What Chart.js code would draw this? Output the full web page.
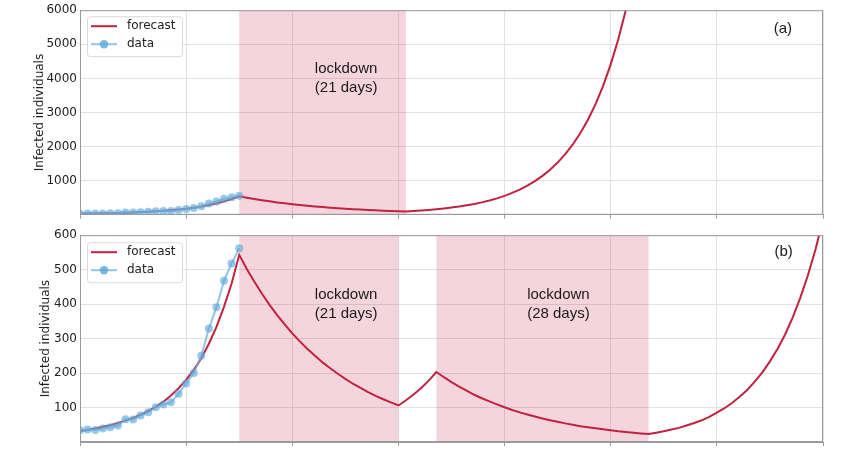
<!DOCTYPE html>
<html>
<head>
<meta charset="utf-8">
<script src="https://cdn.jsdelivr.net/npm/chart.js@4.4.1/dist/chart.umd.min.js"></script>
<style>
  html, body { margin: 0; padding: 0; background: #fff; }
  #wrap { position: relative; width: 846px; height: 457px; }
  .panel { position: absolute; left: 0; width: 846px; }
</style>
</head>
<body>
<div id="wrap">
  <div class="panel" style="top:0;height:225px"><canvas id="chartA"></canvas></div>
  <div class="panel" style="top:225px;height:232px"><canvas id="chartB"></canvas></div>
</div>
<script>
// observed cases, one per day (day 0..21)
const observed = [34, 36, 35, 39, 43, 48, 66, 65, 77, 86, 101, 109, 115, 140, 170, 200, 250, 329, 391, 468, 518, 562];

// model forecast, one value per day starting at day 0
const forecastA = [32, 35, 39, 44, 49, 55, 62, 70, 79, 90, 102, 117, 135, 156, 180, 209, 243, 285, 334, 393, 460, 540,
  499, 461, 426, 394, 364, 336, 311, 287, 265, 245, 227, 209, 193, 179, 165, 153, 141, 130, 120, 111, 103, 95,
  108, 123, 141, 161, 184, 211, 241, 277, 317, 365, 419, 482, 556, 641, 739, 853, 986, 1141, 1322, 1532,
  1777, 2063, 2397, 2788, 3246, 3783, 4412, 5147, 6013, 7030];

const forecastB = [32, 35, 39, 44, 49, 55, 62, 70, 79, 90, 102, 117, 135, 156, 180, 209, 243, 285, 334, 393, 460, 543,
  502, 465, 430, 398, 368, 341, 315, 292, 270, 250, 231, 214, 198, 183, 169, 157, 145, 134, 124, 115, 106,
  121, 138, 157, 178, 203,
  188, 174, 161, 149, 137, 127, 118, 109, 101, 93, 86, 80, 74, 68, 63, 59, 54, 50, 46, 43, 40, 37, 34, 31, 29, 27, 25, 23,
  27, 31, 36, 41, 48, 55, 63, 73, 85, 98, 113, 131, 151, 175, 202, 234, 270, 312, 361, 418, 483, 558, 645];

// lockdown periods [start day, end day]
const lockdownsA = [[21, 43]];
const lockdownsB = [[21, 42], [47, 75]];

// text labels [day, value, text]
const notesA = [[35.1, 4275, 'lockdown'], [35.1, 3720, '(21 days)'], [92.7, 5440, '(a)']];
const notesB = [[35.1, 426, 'lockdown'], [35.1, 371, '(21 days)'],
  [63.1, 426, 'lockdown'], [63.1, 371, '(28 days)'], [92.8, 552, '(b)']];

const xMax = 98;
const xStep = 14;

const RED = '#c0223f';

Chart.defaults.font.family = 'DejaVu Sans';
Chart.defaults.font.size = 12;
Chart.defaults.color = '#222';

const toPoints = arr => arr.map((v, i) => ({ x: i, y: v }));

const shading = {
  id: 'shading',
  beforeDatasetsDraw(chart, args, opts) {
    const { ctx, chartArea, scales } = chart;
    ctx.save();
    ctx.fillStyle = 'rgba(205, 45, 85, 0.2)';
    opts.spans.forEach(([a, b]) => {
      const x0 = scales.x.getPixelForValue(a);
      const x1 = scales.x.getPixelForValue(b);
      ctx.fillRect(x0, chartArea.top, x1 - x0, chartArea.bottom - chartArea.top);
    });
    ctx.restore();
  }
};

const decor = {
  id: 'decor',
  afterDraw(chart, args, opts) {
    const { ctx, chartArea, scales } = chart;
    ctx.save();
    // notes
    ctx.fillStyle = '#1a1a1a';
    ctx.font = '15px "Liberation Sans"';
    ctx.textAlign = 'center';
    ctx.textBaseline = 'middle';
    opts.notes.forEach(([d, v, t]) => {
      ctx.fillText(t, scales.x.getPixelForValue(d), scales.y.getPixelForValue(v));
    });
    // legend
    const bx = chartArea.left + 7, by = chartArea.top + opts.legendDy, bw = 95, bh = 40;
    ctx.beginPath();
    ctx.roundRect(bx + 0.5, by + 0.5, bw, bh, 3);
    ctx.fillStyle = 'rgba(255,255,255,0.9)';
    ctx.fill();
    ctx.strokeStyle = '#dadada';
    ctx.lineWidth = 1;
    ctx.stroke();
    const r1 = by + 10, r2 = by + 28;
    ctx.lineWidth = 2;
    ctx.strokeStyle = RED;
    ctx.beginPath(); ctx.moveTo(bx + 4, r1); ctx.lineTo(bx + 30, r1); ctx.stroke();
    ctx.strokeStyle = 'rgba(120,185,228,0.8)';
    ctx.beginPath(); ctx.moveTo(bx + 4, r2); ctx.lineTo(bx + 30, r2); ctx.stroke();
    ctx.fillStyle = 'rgba(95,170,220,0.85)';
    ctx.beginPath(); ctx.arc(bx + 17, r2, 4.2, 0, Math.PI * 2); ctx.fill();
    ctx.fillStyle = '#222';
    ctx.font = '12px "DejaVu Sans"';
    ctx.textAlign = 'left';
    ctx.fillText('forecast', bx + 40, r1);
    ctx.fillText('data', bx + 40, r2);
    // frame
    ctx.strokeStyle = '#9a9a9a';
    ctx.lineWidth = 1;
    ctx.strokeRect(chartArea.left + 0.5, chartArea.top + 0.5,
      chartArea.right - chartArea.left - 1, chartArea.bottom - chartArea.top - 1);
    ctx.restore();
  }
};

function makeChart(id, forecast, yMax, yStep, spans, notes, pad, yWidth, xHeight, legendDy) {
  return new Chart(document.getElementById(id), {
    type: 'line',
    data: {
      datasets: [
        {
          label: 'data',
          data: toPoints(observed),
          borderColor: 'rgba(110,178,225,0.75)',
          backgroundColor: 'rgba(95,170,220,0.65)',
          borderWidth: 2,
          pointRadius: 4,
          pointBorderWidth: 0,
          pointBackgroundColor: 'rgba(95,170,220,0.65)',
          order: 0
        },
        {
          label: 'forecast',
          data: toPoints(forecast),
          borderColor: RED,
          borderWidth: 2,
          pointRadius: 0,
          order: 1
        }
      ]
    },
    options: {
      responsive: true,
      maintainAspectRatio: false,
      animation: false,
      layout: { padding: pad },
      plugins: {
        legend: { display: false },
        tooltip: { enabled: false },
        shading: { spans: spans },
        decor: { notes: notes, legendDy: legendDy }
      },
      scales: {
        x: {
          type: 'linear',
          min: 0,
          max: xMax,
          ticks: { display: false, stepSize: xStep },
          grid: { color: '#e2e2e2', drawTicks: true, tickLength: 4, tickColor: '#9a9a9a' },
          border: { display: true, color: '#9a9a9a' },
          afterFit: s => { s.height = xHeight; }
        },
        y: {
          min: 0,
          max: yMax,
          ticks: { stepSize: yStep, padding: 3, callback: v => (v === 0 ? '' : String(v)) },
          grid: { color: '#e2e2e2', drawTicks: false },
          border: { display: true, color: '#9a9a9a' },
          title: { display: true, text: 'Infected individuals', font: { size: 12 }, padding: { top: 4, bottom: 4 } },
          afterFit: s => { s.width = yWidth; }
        }
      }
    },
    plugins: [shading, decor]
  });
}

makeChart('chartA', forecastA, 6000, 1000, lockdownsA, notesA,
  { left: 29, top: 9, right: 23, bottom: 0 }, 51, 10, 6);
makeChart('chartB', forecastB, 600, 100, lockdownsB, notesB,
  { left: 35, top: 10, right: 23, bottom: 0 }, 45, 15, 7);
</script>
</body>
</html>
